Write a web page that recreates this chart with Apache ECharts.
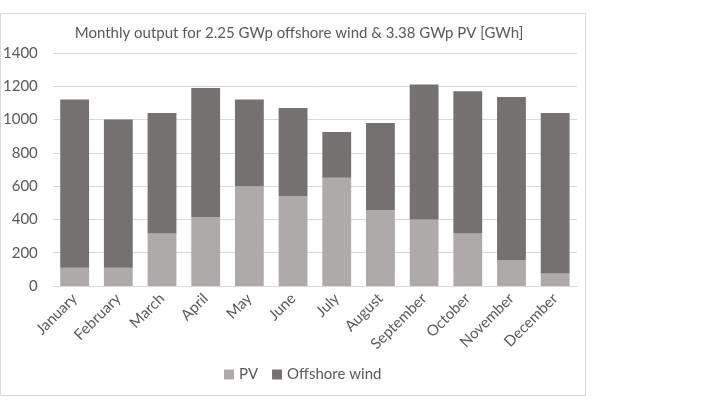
<!DOCTYPE html>
<html><head><meta charset="utf-8">
<script src="https://cdn.jsdelivr.net/npm/echarts@6/dist/echarts.min.js"></script>
<style>html,body{margin:0;padding:0;background:#fff}#c{width:727px;height:409px}</style>
</head><body><div id="c"></div>
<script>
const months = ['January','February','March','April','May','June','July','August','September','October','November','December'];
const pv = [110, 110, 315, 415, 600, 540, 650, 455, 400, 315, 155, 75];
const offshoreWind = [1010, 890, 725, 775, 520, 530, 275, 525, 810, 855, 980, 965];
const yTicks = [0, 200, 400, 600, 800, 1000, 1200, 1400];
const titleText = 'Monthly output for 2.25 GWp offshore wind & 3.38 GWp PV [GWh]';

const FONT = 'Lato';
const TXT = '#595959';
const chart = echarts.init(document.getElementById('c'), null, {renderer: 'canvas'});
chart.setOption({
  animation: false,
  backgroundColor: '#fff',
  textStyle: {fontFamily: FONT, color: TXT},
  graphic: [{
    type: 'rect', shape: {x: 0.5, y: 13.5, width: 585, height: 382},
    style: {fill: 'none', stroke: '#d9d9d9', lineWidth: 1}, z: -1
  }],
  title: {
    text: titleText, left: 294, top: 21, textAlign: 'center',
    textStyle: {fontFamily: FONT, fontSize: 15, fontWeight: 'normal', color: TXT}
  },
  legend: {
    data: ['PV', 'Offshore wind'], bottom: 22, left: 219,
    itemWidth: 10, itemHeight: 10, itemGap: 14, icon: 'rect',
    textStyle: {fontFamily: FONT, fontSize: 15, color: TXT}
  },
  grid: {left: 52, right: 150, top: 53, bottom: 123, containLabel: false},
  xAxis: {
    type: 'category', data: months,
    axisLine: {show: true, lineStyle: {color: '#d9d9d9'}},
    axisTick: {show: false},
    axisLabel: {rotate: 45, interval: 0, fontFamily: FONT, fontSize: 15, color: TXT, margin: 10}
  },
  yAxis: {
    type: 'value', min: 0, max: 1400, interval: 200,
    axisLine: {show: false}, axisTick: {show: false},
    splitLine: {lineStyle: {color: '#d9d9d9'}},
    axisLabel: {fontFamily: FONT, fontSize: 15, color: TXT, margin: 15,
      formatter: v => yTicks.includes(v) ? String(v) : ''}
  },
  series: [
    {name: 'PV', type: 'bar', stack: 'a', data: pv, barCategoryGap: '34%',
     itemStyle: {color: '#aeaaaa'}},
    {name: 'Offshore wind', type: 'bar', stack: 'a', data: offshoreWind, barCategoryGap: '34%',
     itemStyle: {color: '#767171'}}
  ]
});
</script></body></html>
